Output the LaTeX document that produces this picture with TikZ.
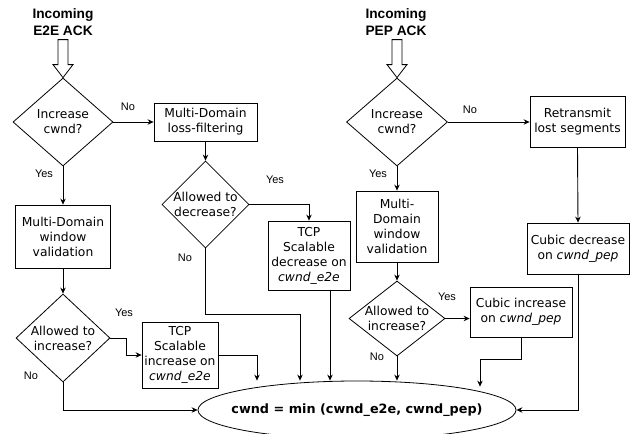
\documentclass[tikz,border=0pt]{standalone}
\usepackage{fontspec}
\setmainfont{DejaVu Sans}[ItalicFont={DejaVu Sans Oblique},BoldFont={DejaVu Sans Bold}]
\newfontfamily\headfont{Liberation Sans}
\usetikzlibrary{arrows.meta,positioning,shapes.geometric,calc}

\newcommand\boxfont{\fontsize{12.3}{15}\selectfont}
\newcommand\ynfont{\headfont\fontsize{11}{13}\selectfont}

\begin{document}
\begin{tikzpicture}[x=1pt,y=-1pt,
   flow/.style={draw,line width=0.8pt,align=center,inner sep=0pt,font=\boxfont},
   proc/.style={flow,rectangle},
   ask/.style={flow,diamond,inner sep=-5pt},
   arr/.style={-{Stealth[length=6pt,width=5.5pt]},line width=0.9pt},
   hollow/.style={draw,fill=white,line width=0.8pt,line join=miter},
   head/.style={align=center,font=\headfont\bfseries\fontsize{13.7}{16.5}\selectfont},
   yn/.style={font=\ynfont}]
  \useasboundingbox (0,0) rectangle (638,434);
  % E2E side
  \node[head] (ackE) at (63,22) {Incoming\\E2E ACK};
  \node[ask,minimum width=100pt,minimum height=88pt] (incE) at (63,122) {Increase\\cwnd?};
  \node[proc,minimum width=103pt,minimum height=38pt] (filt) at (205.5,122) {Multi-Domain\\loss-filtering};
  \node[ask,minimum width=87pt,minimum height=87pt] (decok) at (205.5,204.5) {Allowed to\\decrease?};
  \node[proc,minimum width=82pt,minimum height=69pt] (tcpdec) at (309,255.5) {TCP\\Scalable\\decrease on\\\textit{cwnd\_e2e}};
  \node[proc,minimum width=95pt,minimum height=63pt] (valE) at (63,236.5) {Multi-Domain\\window\\validation};
  \node[ask,minimum width=94pt,minimum height=88pt] (incokE) at (63,338) {Allowed to\\increase?};
  \node[proc,minimum width=76pt,minimum height=66pt] (tcpinc) at (180,355) {TCP\\Scalable\\increase on\\\textit{cwnd\_e2e}};
  % PEP side
  \node[head] (ackP) at (396,22) {Incoming\\PEP ACK};
  \node[ask,minimum width=101pt,minimum height=88pt] (incP) at (397,122) {Increase\\cwnd?};
  \node[proc,minimum width=95pt,minimum height=51pt] (retx) at (577.5,122) {Retransmit\\lost segments};
  \node[proc,minimum width=102pt,minimum height=51pt] (cubdec) at (578,248.5) {Cubic decrease\\on \textit{cwnd\_pep}};
  \node[proc,minimum width=82pt,minimum height=71pt] (valP) at (397,226.5) {Multi-\\Domain\\window\\validation};
  \node[ask,minimum width=96pt,minimum height=75pt] (incokP) at (397,318.5) {Allowed to\\increase?};
  \node[proc,minimum width=102pt,minimum height=50pt] (cubinc) at (521,312) {Cubic increase\\on \textit{cwnd\_pep}};
  % result
  \node[ellipse,draw,line width=0.8pt,minimum width=318pt,minimum height=58pt,inner xsep=-50pt,inner ysep=0pt,
        font=\bfseries\fontsize{12.8}{15}\selectfont] (cwnd) at (357,410) {cwnd = min (cwnd\_e2e, cwnd\_pep)};

  \draw[hollow] (incE.north) -- ++(10,-13) -- ++(-5,0) -- ++(0,-25) -- ++(-10,0) -- ++(0,25) -- ++(-5,0) -- cycle;
  \draw[hollow] (incP.north) -- ++(10,-13) -- ++(-5,0) -- ++(0,-25) -- ++(-10,0) -- ++(0,25) -- ++(-5,0) -- cycle;

  \draw[arr] (incE.east) -- (filt.west);
  \draw[arr] (filt.south) -- (decok.north);
  \draw[arr] (decok.east) -| (tcpdec.north);
  \draw[arr] (decok.south) -- ++(0,66) -| ($(cwnd.north)+(-57,0)$);
  \draw[arr] ([xshift=21pt]tcpdec.south) -- ([xshift=21pt]tcpdec.south |- cwnd.north);
  \draw[arr] (incE.south) -- (valE.north);
  \draw[arr] (valE.south) -- (incokE.north);
  \draw[arr] (incokE.east) -- ++(16,0) |- (tcpinc.west);
  \draw[arr] (tcpinc.east) -| ($(cwnd.north)+(-100,0)$);
  \draw[arr] (incokE.south) |- (cwnd.west);

  \draw[arr] (incP.east) -- (retx.west);
  \draw[arr] (retx.south) -- (cubdec.north);
  \draw[arr] (cubdec.south) |- (cwnd.east);
  \draw[arr] (incP.south) -- (valP.north);
  \draw[arr] (valP.south) -- (incokP.north);
  \draw[arr] (incokP.east) -- (incokP.east -| cubinc.west);
  \draw[arr] (incokP.south) -- (incokP.south |- cwnd.north);
  \draw[arr] (cubinc.south) -- ++(0,22) -| ($(cwnd.north)+(123,6)$);

  % yes / no
  \node[yn] (no1) at (128,107) {No};
  \node[yn] (yes1) at (44,174) {Yes};
  \node[yn] (yes2) at (275,180) {Yes};
  \node[yn] (no2) at (185,258) {No};
  \node[yn] (yes3) at (124,313) {Yes};
  \node[yn] (no3) at (31,376) {No};
  \node[yn] (no4) at (470,110) {No};
  \node[yn] (yes4) at (378,174) {Yes};
  \node[yn] (yes5) at (447,297) {Yes};
  \node[yn] (no5) at (377,357) {No};
\end{tikzpicture}
\end{document}
